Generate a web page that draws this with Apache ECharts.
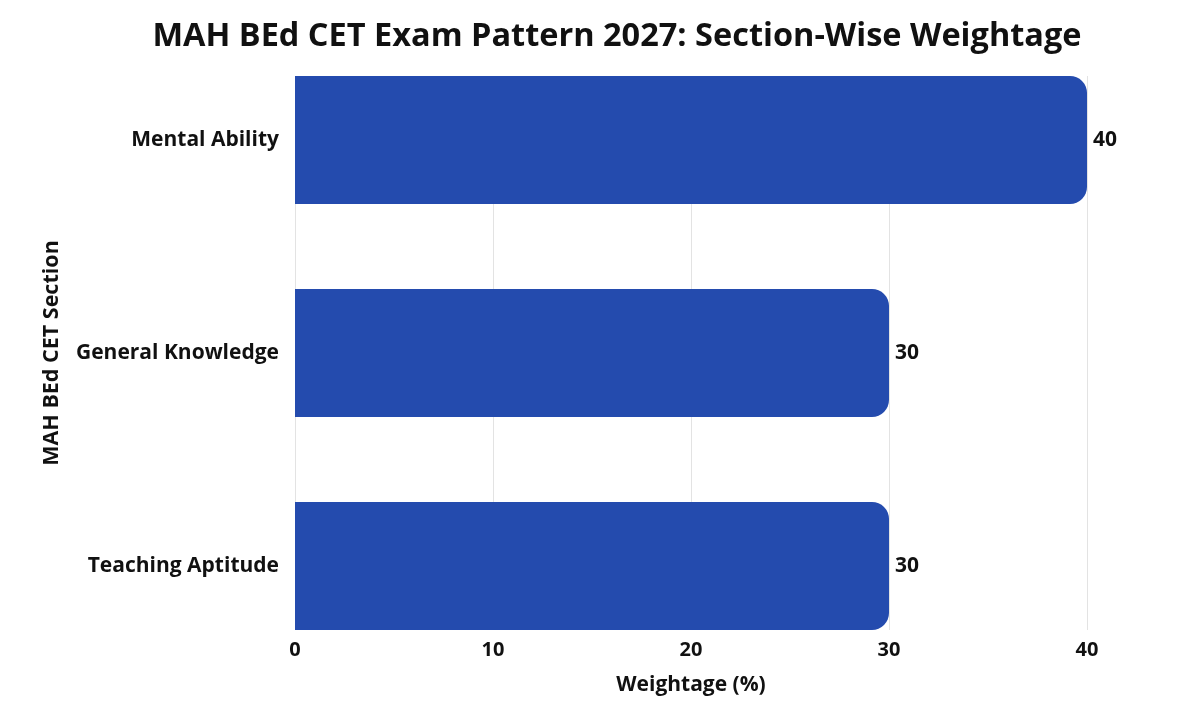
<!DOCTYPE html>
<html>
<head>
<meta charset="utf-8">
<script src="https://cdn.jsdelivr.net/npm/echarts@6/dist/echarts.min.js"></script>
<style>html,body{margin:0;padding:0;background:#fff}#c{width:1200px;height:711px}</style>
</head>
<body>
<div id="c"></div>
<script>
const categories = ['Mental Ability', 'General Knowledge', 'Teaching Aptitude'];
const weightage = [40, 30, 30];
const xTicks = [0, 10, 20, 30, 40];

const FONT = '"Open Sans", Lato, sans-serif';
const chart = echarts.init(document.getElementById('c'));
chart.setOption({
  backgroundColor: '#ffffff',
  animation: false,
  title: {
    text: 'MAH BEd CET Exam Pattern 2027: Section-Wise Weightage',
    left: 612, top: 15, textAlign: 'center',
    textStyle: { fontFamily: FONT, fontWeight: 'bold', fontSize: 32.5, color: '#111' }
  },
  grid: [
    { left: 295, right: 113, top: 76, bottom: 81, containLabel: false },
    { left: 295, right: 113, top: 33.5, bottom: 38.5, containLabel: false }
  ],
  xAxis: [
    {
      gridIndex: 0, type: 'value', min: xTicks[0], max: xTicks[xTicks.length - 1], interval: 10,
      axisLine: { show: false }, axisTick: { show: false },
      splitLine: { show: true, lineStyle: { color: '#e3e3e3', width: 1 } },
      axisLabel: { margin: 10, fontFamily: FONT, fontSize: 20, fontWeight: 'bold', color: '#111' },
      name: 'Weightage (%)', nameLocation: 'middle', nameGap: 45,
      nameTextStyle: { fontFamily: FONT, fontSize: 21, fontWeight: 'bold', color: '#111' }
    },
    {
      gridIndex: 1, type: 'value', min: xTicks[0], max: xTicks[xTicks.length - 1], show: false
    }
  ],
  yAxis: [
    { gridIndex: 0, type: 'value', min: 0, max: 1, show: false },
    {
      gridIndex: 1, type: 'category', data: categories, inverse: true,
      axisLine: { show: false }, axisTick: { show: false }, splitLine: { show: false },
      axisLabel: { margin: 16, fontFamily: FONT, fontSize: 21, fontWeight: 'bold', color: '#111' },
      name: 'MAH BEd CET Section', nameLocation: 'middle', nameGap: 232, nameRotate: 90,
      nameTextStyle: { fontFamily: FONT, fontSize: 21.5, fontWeight: 'bold', color: '#111' }
    }
  ],
  series: [
    {
      type: 'bar', xAxisIndex: 1, yAxisIndex: 1, data: weightage, barWidth: 128,
      itemStyle: { color: '#244bae', borderRadius: [0, 17, 17, 0] },
      label: { show: true, position: 'right', distance: 6, fontFamily: FONT, fontSize: 21, fontWeight: 'bold', color: '#111' }
    }
  ]
});
</script>
</body>
</html>
